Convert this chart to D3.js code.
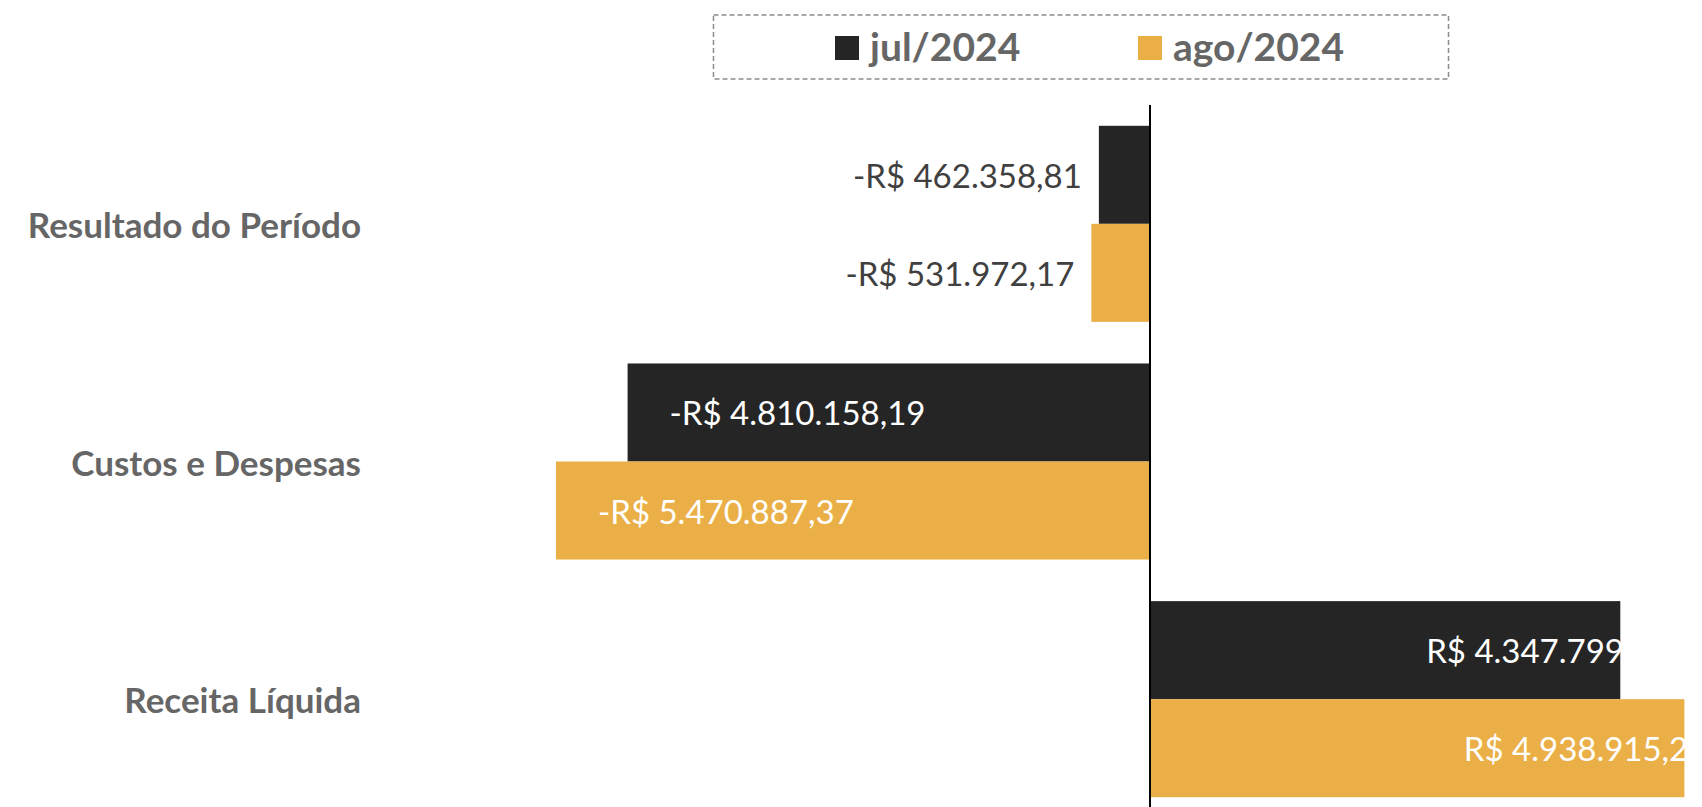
<!DOCTYPE html>
<html>
<head>
<meta charset="utf-8">
<script src="https://cdn.jsdelivr.net/npm/d3@7"></script>
<style>
  html, body { margin: 0; padding: 0; background: #ffffff; overflow: hidden; }
  svg { display: block; font-family: Lato, "Open Sans", sans-serif; }
</style>
</head>
<body>
<svg id="chart" width="1702" height="807"></svg>
<script>
// ---- data ----
const categories = ["Resultado do Período", "Custos e Despesas", "Receita Líquida"];
const seriesNames = ["jul/2024", "ago/2024"];
const julValues = [-462358.81, -4810158.19, 4347799.00];
const agoValues = [-531972.17, -5470887.37, 4938915.20];
const seriesColors = ["#252525", "#EAAF47"];

const W = 1702, H = 807;
const svg = d3.select("#chart");

const locale = d3.formatLocale({
  decimal: ",", thousands: ".", grouping: [3], currency: ["R$ ", ""], minus: "-"
});
const fmt = locale.format("$,.2f");

const seriesData = [julValues, agoValues];
const rows = [];
categories.forEach((c, i) => {
  seriesNames.forEach((s, j) => {
    rows.push({ cat: c, series: s, value: seriesData[j][i], color: seriesColors[j] });
  });
});

// scales
const zeroX = 1149, pxPerUnit = 1.084e-4, span = 6e6;
const x = d3.scaleLinear().domain([-span, span]).range([zeroX - span * pxPerUnit, zeroX + span * pxPerUnit]);
const y0 = d3.scaleBand().domain(categories).range([105, 818]).paddingInner(0.175).paddingOuter(0.0875);
const y1 = d3.scaleBand().domain(seriesNames).range([0, y0.bandwidth()]);

// bars
const g = svg.append("g");
g.selectAll("rect.bar").data(rows).join("rect")
  .attr("class", "bar")
  .attr("x", d => x(Math.min(0, d.value)))
  .attr("y", d => y0(d.cat) + y1(d.series))
  .attr("width", d => Math.abs(x(d.value) - x(0)))
  .attr("height", y1.bandwidth())
  .attr("fill", d => d.color);

// value labels
g.selectAll("text.val").data(rows).join("text")
  .attr("class", "val")
  .attr("font-size", 33)
  .attr("dominant-baseline", "central")
  .attr("y", d => y0(d.cat) + y1(d.series) + y1.bandwidth() / 2)
  .each(function (d) {
    const t = d3.select(this);
    const len = Math.abs(x(d.value) - x(0));
    if (d.value < 0 && len < 150) {
      // outside end (left of bar)
      t.attr("x", x(d.value) - 17).attr("text-anchor", "end").attr("fill", "#404040");
    } else if (d.value < 0) {
      t.attr("x", x(d.value) + 42).attr("text-anchor", "start").attr("fill", "#ffffff");
    } else {
      t.attr("x", x(d.value * 0.588)).attr("text-anchor", "start").attr("fill", "#ffffff");
    }
  })
  .text(d => fmt(d.value));

// zero axis line
svg.append("line")
  .attr("x1", x(0) + 1).attr("x2", x(0) + 1)
  .attr("y1", 105).attr("y2", 818)
  .attr("stroke", "#000").attr("stroke-width", 2);

// category labels
svg.selectAll("text.cat").data(categories).join("text")
  .attr("class", "cat")
  .attr("x", 361)
  .attr("y", d => y0(d) + y0.bandwidth() / 2)
  .attr("text-anchor", "end")
  .attr("dominant-baseline", "central")
  .attr("font-size", 35)
  .attr("font-weight", "bold")
  .attr("fill", "#666666")
  .text(d => d);

// legend
const lg = svg.append("g");
lg.append("rect")
  .attr("x", 713.5).attr("y", 15).attr("width", 735).attr("height", 64)
  .attr("fill", "#fff").attr("stroke", "#8c8c8c").attr("stroke-width", 1.5)
  .attr("stroke-dasharray", "5,3");
const legendX = [835, 1138];
seriesNames.forEach((s, j) => {
  lg.append("rect").attr("x", legendX[j]).attr("y", 36).attr("width", 24).attr("height", 24)
    .attr("fill", seriesColors[j]);
  lg.append("text").attr("x", legendX[j] + 35).attr("y", 61)
    .attr("font-size", 39).attr("font-weight", "bold").attr("fill", "#666666")
    .text(s);
});
</script>
</body>
</html>
